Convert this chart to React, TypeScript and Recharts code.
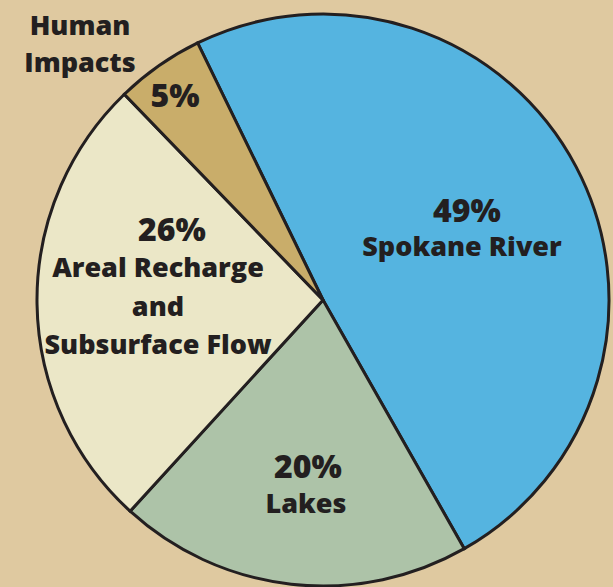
import { PieChart, Pie, Cell } from "recharts";

// share of groundwater inflow, clockwise from the top
const sources = ["Spokane River", "Lakes", "Areal Recharge and Subsurface Flow", "Human Impacts"];
const shares = [49, 20, 26, 5];
const nameLines = [["Spokane River"], ["Lakes"], ["Areal Recharge", "and", "Subsurface Flow"], ["Human", "Impacts"]];
const colors = ["#55b4e0", "#adc3a8", "#ebe7c7", "#c9ad6a"];

const chartData = sources.map((name, i) => ({ name, value: shares[i] }));

// label placement relative to the pie centre (baseline of first line)
const labelPos = [
  { pct: [144, -78], name: [139, -44], gap: 36 },
  { pct: [-15, 178], name: [-17, 213], gap: 36 },
  { pct: [-151, -59], name: [-165, -23], gap: 38.5 },
  { pct: [-148, -193], name: [-243, -265], gap: 37 },
];

const ink = "#231f20";
const font = "'Open Sans', sans-serif";

const renderLabel = (props: any) => {
  const { cx, cy, index } = props;
  const pos = labelPos[index];
  const lines = nameLines[index];
  return (
    <g key={`lbl-${index}`}>
      <text
        x={cx + pos.pct[0]}
        y={cy + pos.pct[1]}
        textAnchor="middle"
        fill={ink}
        fontFamily={font}
        fontWeight={800}
        fontSize={32}
      >
        {shares[index]}%
      </text>
      <text
        x={cx + pos.name[0]}
        y={cy + pos.name[1]}
        textAnchor="middle"
        fill={ink}
        fontFamily={font}
        fontWeight={800}
        fontSize={27}
      >
        {lines.map((l, j) => (
          <tspan key={j} x={cx + pos.name[0]} dy={j === 0 ? 0 : pos.gap}>
            {l}
          </tspan>
        ))}
      </text>
    </g>
  );
};

export default function App() {
  return (
    <div
      style={{
        position: "absolute",
        left: 0,
        top: 0,
        width: 613,
        height: 587,
        background: "#dfc9a0",
        overflow: "hidden",
      }}
    >
      <PieChart width={613} height={587} margin={{ top: 0, right: 0, bottom: 0, left: 0 }}>
        <Pie
          data={chartData}
          dataKey="value"
          nameKey="name"
          cx={323}
          cy={300}
          outerRadius={286}
          startAngle={116}
          endAngle={-244}
          stroke={ink}
          strokeWidth={3}
          label={renderLabel}
          labelLine={false}
          isAnimationActive={false}
        >
          {chartData.map((d, i) => (
            <Cell key={d.name} fill={colors[i]} />
          ))}
        </Pie>
      </PieChart>
    </div>
  );
}
